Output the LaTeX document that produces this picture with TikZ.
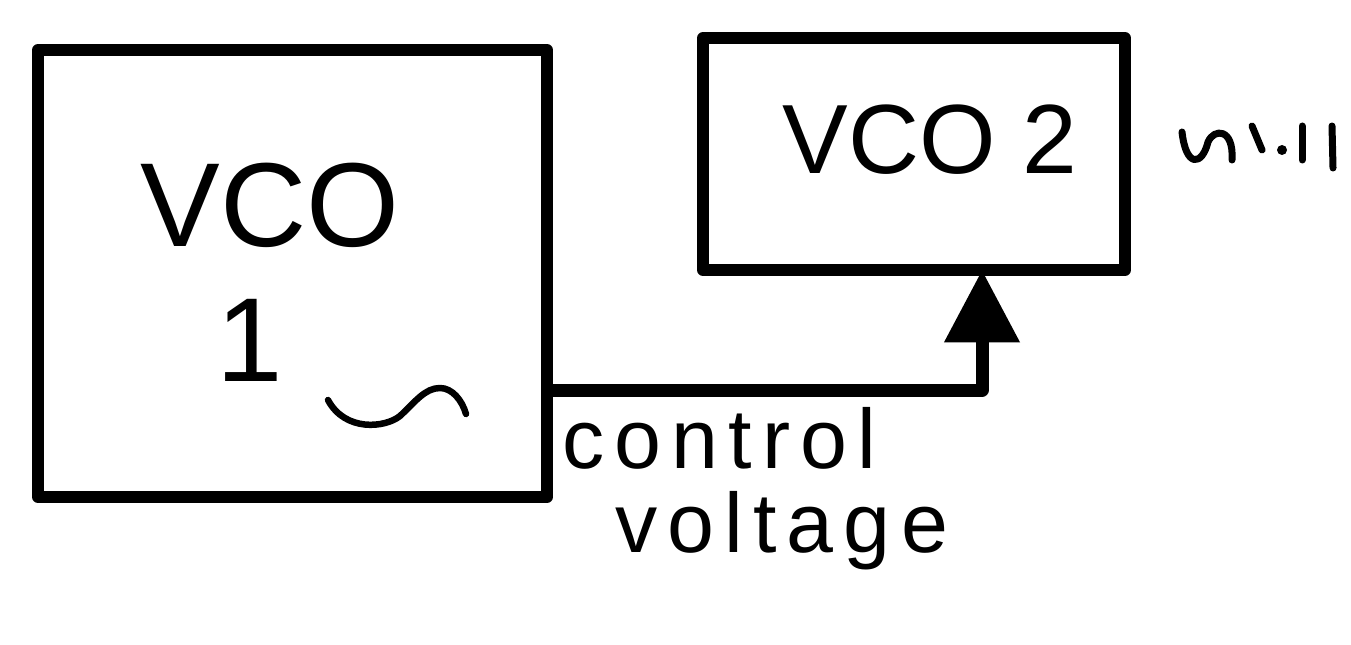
\documentclass[tikz,border=0pt]{standalone}
\usepackage{fontspec}
\setmainfont{Liberation Sans}
\usetikzlibrary{arrows.meta}
\begin{document}
\begin{tikzpicture}[x=0.02cm,y=-0.02cm,
  box/.style={draw,line width=0.24cm,line join=round,inner sep=0pt,outer sep=0pt},
  conn/.style={line width=0.26cm,line join=round,-{Triangle[length=1.45cm,width=1.45cm]}},
  big/.style={font=\fontsize{68}{72}\selectfont,inner sep=0pt},
  mid/.style={font=\fontsize{56}{60}\selectfont,inner sep=0pt},
  lbl/.style={font=\fontsize{48}{52}\selectfont\addfontfeatures{LetterSpace=12},inner sep=0pt,anchor=base west},
  scrib/.style={line width=0.14cm,line cap=round,line join=round}]
\useasboundingbox (0,0) rectangle (1351,645);
\node[box,minimum width=10.18cm,minimum height=8.94cm] (vco1) at (292.5,273.5) {};
\node[box,minimum width=8.44cm,minimum height=4.64cm] (vco2) at (914,154) {};
\node[big] (t1) at (270,205) {VCO};
\node[big] (t2) at (250,340) {1};
\node[mid] (t3) at (930,140) {VCO 2};
\node[lbl] (c1) at (562,468) {control};
\node[lbl] (c2) at (615,552) {voltage};
\coordinate (bend) at (982,390);
\draw[conn] (vco1.east |- bend) -- (bend) -- (vco2.south -| bend);
% wave in VCO 1
\draw[scrib,line width=0.13cm] (328,400) .. controls (345,432) and (385,428) .. (400,416)
  .. controls (415,402) and (425,388) .. (440,388) .. controls (452,388) and (462,400) .. (466,414);
% scribble beside VCO 2
\draw[scrib] (1182,132) .. controls (1186,168) and (1202,166) .. (1208,142)
  .. controls (1214,128) and (1234,128) .. (1232,160);
\draw[scrib] (1252,126) -- (1262,150);
\fill (1282,150) circle (5);
\draw[scrib] (1302,126) -- (1302,160);
\draw[scrib] (1332,126) -- (1333,168);
\end{tikzpicture}
\end{document}
